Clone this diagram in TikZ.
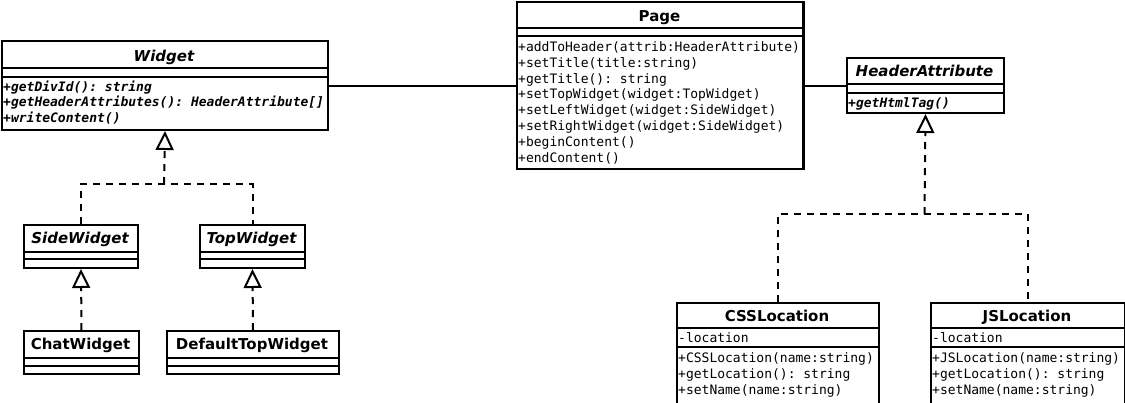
\documentclass[tikz,border=0pt]{standalone}
\usepackage{fontspec}
\setmainfont{DejaVu Sans}
\setmonofont{DejaVu Sans Mono}
\usetikzlibrary{arrows.meta}
\tikzset{
  cls/.style={draw, fill=white, line width=2pt, inner sep=0pt, anchor=north west},
  div/.style={line width=2pt},
  ttl/.style={anchor=base, inner sep=0pt, font=\fontsize{15}{18}\selectfont\bfseries},
  ttli/.style={ttl, font=\fontsize{15}{18}\selectfont\bfseries\itshape},
  mem/.style={anchor=base west, inner sep=0pt, font=\fontsize{13}{15.8}\selectfont\ttfamily},
  memi/.style={mem, font=\fontsize{13}{15.8}\selectfont\ttfamily\bfseries\itshape},
  assoc/.style={line width=2pt},
  real/.style={line width=2pt, dash pattern=on 7pt off 6pt},
  gen/.style={real, -{Triangle[open, length=19pt, width=18pt]}},
}
\begin{document}
\begin{tikzpicture}[x=1pt,y=-1pt]
\useasboundingbox (0,0) rectangle (1125,402);
\fill[white] (0,0) rectangle (1125,402);

% ---------- boxes ----------
\node[cls, minimum width=326, minimum height=89] (widget) at (1,40) {};
\draw[div] (1,68) -- (327,68);
\draw[div] (1,77) -- (327,77);
\node[ttli] (widget-t) at (164,61) {Widget};
\node[memi] (widget-m1) at (3,91) {+getDivId(): string};
\node[memi] (widget-m2) at (3,106.5) {+getHeaderAttributes(): HeaderAttribute[]};
\node[memi] (widget-m3) at (3,122) {+writeContent()};

\node[cls, minimum width=287, minimum height=167] (page) at (516,1) {};
\draw[div] (516,28) -- (803,28);
\draw[div] (516,36) -- (803,36);
\node[ttl] (page-t) at (659.5,21) {Page};
\node[mem] (page-m1) at (518,51.5) {+addToHeader(attrib:HeaderAttribute)};
\node[mem] (page-m2) at (518,67.3) {+setTitle(title:string)};
\node[mem] (page-m3) at (518,83.1) {+getTitle(): string};
\node[mem] (page-m4) at (518,98.9) {+setTopWidget(widget:TopWidget)};
\node[mem] (page-m5) at (518,114.7) {+setLeftWidget(widget:SideWidget)};
\node[mem] (page-m6) at (518,130.5) {+setRightWidget(widget:SideWidget)};
\node[mem] (page-m7) at (518,146.3) {+beginContent()};
\node[mem] (page-m8) at (518,162.1) {+endContent()};
\draw[div] (803,1) -- (803,168);

\node[cls, minimum width=157, minimum height=55] (hattr) at (846,57) {};
\draw[div] (846,84) -- (1003,84);
\draw[div] (846,93) -- (1003,93);
\node[ttli] (hattr-t) at (924.5,76) {HeaderAttribute};
\node[memi] (hattr-m1) at (848,107.5) {+getHtmlTag()};

\node[cls, minimum width=114, minimum height=43] (side) at (23,224) {};
\draw[div] (23,252) -- (137,252);
\draw[div] (23,259) -- (137,259);
\node[ttli] (side-t) at (80,243) {SideWidget};

\node[cls, minimum width=105, minimum height=43] (top) at (199,224) {};
\draw[div] (199,252) -- (304,252);
\draw[div] (199,259) -- (304,259);
\node[ttli] (top-t) at (251.5,243) {TopWidget};

\node[cls, minimum width=115, minimum height=43] (chat) at (23,330) {};
\draw[div] (23,358) -- (138,358);
\draw[div] (23,366) -- (138,366);
\node[ttl] (chat-t) at (80.5,349) {ChatWidget};

\node[cls, minimum width=172, minimum height=43] (dtw) at (166,330) {};
\draw[div] (166,358) -- (338,358);
\draw[div] (166,366) -- (338,366);
\node[ttl] (dtw-t) at (252,349) {DefaultTopWidget};

\node[cls, minimum width=202, minimum height=104] (css) at (676,302) {};
\draw[div] (676,328) -- (878,328);
\draw[div] (676,347) -- (878,347);
\node[ttl] (css-t) at (777,321) {CSSLocation};
\node[mem] (css-a1) at (678,342) {-location};
\node[mem] (css-m1) at (678,362) {+CSSLocation(name:string)};
\node[mem] (css-m2) at (678,378) {+getLocation(): string};
\node[mem] (css-m3) at (678,394) {+setName(name:string)};

\node[cls, minimum width=194, minimum height=104] (js) at (930,302) {};
\draw[div] (930,328) -- (1124,328);
\draw[div] (930,347) -- (1124,347);
\node[ttl] (js-t) at (1027,321) {JSLocation};
\node[mem] (js-a1) at (932,342) {-location};
\node[mem] (js-m1) at (932,362) {+JSLocation(name:string)};
\node[mem] (js-m2) at (932,378) {+getLocation(): string};
\node[mem] (js-m3) at (932,394) {+setName(name:string)};

% ---------- connectors ----------
\draw[assoc] (widget.east) -- (page.west);
\draw[assoc] (page.east) -- (hattr.west);

\coordinate (wj) at (164,184);
\draw[real] (side.north) |- (wj) -| (top.north);
\draw[gen] (wj) -- (widget.south);
\draw[gen] (chat.north) -- (side.south);
\draw[gen] (dtw.north) -- (top.south);

\coordinate (hj) at (924.5,214);
\draw[real] (css.north) |- (hj) -| (js.north);
\draw[gen] (hj) -- (hattr.south);
\end{tikzpicture}
\end{document}
